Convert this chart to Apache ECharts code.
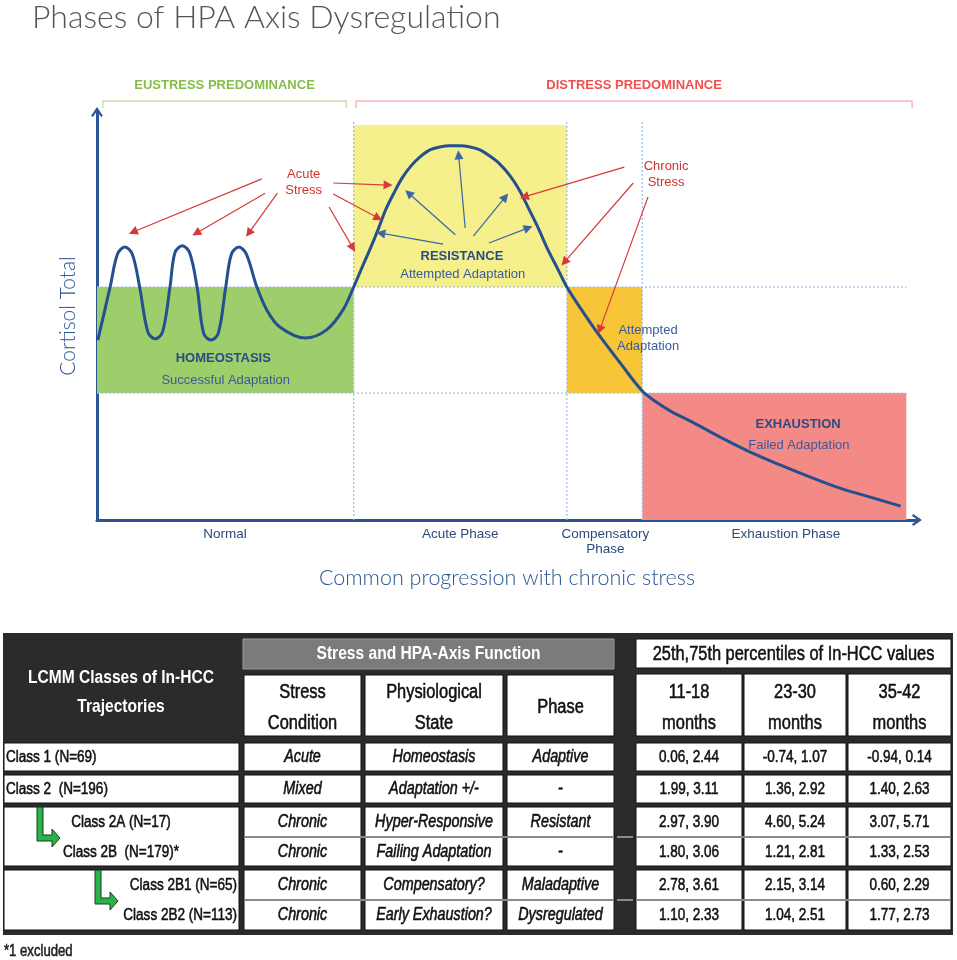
<!DOCTYPE html>
<html style="height: 100%">
<head>
<meta charset="utf-8">
</head>
<body style="height: 100%; margin: 0; background: #fff">
<div id="container" style="width: 957px; height: 960px"></div>
<script src="https://cdn.jsdelivr.net/npm/echarts@6/dist/echarts.min.js"></script>
<script type="text/javascript">
// ---------- diagram data (x: progression 0-100, y: cortisol 0-100) ----------
var cortisolCurve = [
    [0.1, 44.1], [1.6, 57.1], [2.5, 65.2], [3.4, 66.9], [4.3, 65.2], [5.2, 57.1],
    [6.2, 46.1], [7.1, 44.4], [8.0, 46.1], [8.9, 57.1], [9.5, 65.5], [10.4, 67.2],
    [11.3, 65.5], [12.2, 57.1], [13.0, 45.8], [13.9, 44.1], [14.8, 45.8], [15.7, 57.1],
    [16.4, 65.2], [17.3, 66.9], [18.2, 65.2], [19.5, 57.1], [20.7, 51.5], [22.3, 47.3],
    [25.4, 44.6], [28.0, 46.6], [30.0, 51.5], [31.3, 57.1], [32.3, 61.8], [33.3, 66.4],
    [34.3, 71.3], [35.2, 76.0], [36.2, 80.1], [37.2, 83.8], [38.3, 86.8], [39.4, 89.0],
    [40.6, 90.7], [41.8, 91.4], [43.0, 91.7], [44.3, 91.7], [45.5, 91.4], [46.7, 90.7],
    [47.9, 89.2], [49.1, 87.3], [50.4, 84.3], [51.5, 80.9], [52.6, 76.5], [53.8, 71.6],
    [55.0, 66.2], [56.2, 61.5], [57.3, 57.1], [59.1, 51.5], [61.3, 45.1], [63.8, 38.5],
    [66.5, 31.6], [68.2, 28.9], [70.1, 26.5], [72.6, 24.0], [76.0, 20.3], [79.6, 16.7],
    [83.3, 13.5], [87.0, 10.5], [90.6, 7.8], [94.3, 5.6], [98.0, 3.4]
];
// phase zones: [x0, x1, y0, y1]
var zones = [
    [0, 31.3, 31.1, 57.1],
    [31.3, 57.3, 57.1, 96.8],
    [57.3, 66.5, 31.1, 57.1],
    [66.5, 98.7, 0, 31.1]
];
var zoneColors = ['#9ecd6b', '#f5f08b', '#f7c537', '#f48a85'];
var phaseBounds = [31.3, 57.3, 66.5];
var cortisolLevels = [31.1, 57.1];
var phaseTicks = [15.6, 44.3, 62.0, 84.0];
var phaseLabels = ['Normal', 'Acute Phase', 'Compensatory\nPhase', 'Exhaustion Phase'];
// [x0, y0, x1, y1]
var stressArrows = [
    [20.1, 83.6, 4.4, 70.6], [20.5, 80.1, 12.1, 70.3], [22.0, 80.1, 18.5, 70.3],
    [28.3, 76.7, 31.2, 66.7], [28.8, 82.6, 35.5, 82.1], [28.8, 79.9, 34.3, 74.0],
    [64.3, 86.5, 52.1, 79.2], [65.4, 82.6, 57.0, 63.2], [67.2, 79.2, 61.3, 46.6]
];
var responseArrows = [
    [42.2, 67.6, 34.6, 70.3], [43.7, 69.9, 38.0, 80.1], [44.9, 71.6, 44.1, 89.5],
    [45.9, 69.6, 49.8, 79.2], [47.8, 67.9, 52.6, 71.6]
];
// predominance brackets: [x0, x1]
var predominance = [[0.7, 30.4], [31.6, 99.4]];
var predominanceNames = ['EUSTRESS PREDOMINANCE', 'DISTRESS PREDOMINANCE'];
var notes = [
    ['Acute\nStress', 25.2, 82.8, 'stress'],
    ['Chronic\nStress', 69.4, 84.6, 'stress'],
    ['HOMEOSTASIS', 15.4, 39.5, 'head'],
    ['Successful Adaptation', 15.7, 34.1, 'sub'],
    ['RESISTANCE', 44.5, 64.5, 'head'],
    ['Attempted Adaptation', 44.6, 60.3, 'sub'],
    ['Attempted\nAdaptation', 67.2, 44.4, 'sub'],
    ['EXHAUSTION', 85.5, 23.5, 'head'],
    ['Failed Adaptation', 85.6, 18.4, 'sub']
];

// ---------- table data ----------
var tableTitle = 'LCMM Classes of In-HCC\nTrajectories';
var groupHeaders = ['Stress and HPA-Axis Function', '25th,75th percentiles of In-HCC values'];
var columnHeaders = ['Stress\nCondition', 'Physiological\nState', 'Phase', '11-18\nmonths', '23-30\nmonths', '35-42\nmonths'];
var classNames = ['Class 1 (N=69)', 'Class 2  (N=196)', 'Class 2A (N=17)', 'Class 2B  (N=179)*', 'Class 2B1 (N=65)', 'Class 2B2 (N=113)'];
var stressCondition = ['Acute', 'Mixed', 'Chronic', 'Chronic', 'Chronic', 'Chronic'];
var physState = ['Homeostasis', 'Adaptation +/-', 'Hyper-Responsive', 'Failing Adaptation', 'Compensatory?', 'Early Exhaustion?'];
var phaseName = ['Adaptive', '-', 'Resistant', '-', 'Maladaptive', 'Dysregulated'];
var pct1118 = [[0.06, 2.44], [1.99, 3.11], [2.97, 3.90], [1.80, 3.06], [2.78, 3.61], [1.10, 2.33]];
var pct2330 = [[-0.74, 1.07], [1.36, 2.92], [4.60, 5.24], [1.21, 2.81], [2.15, 3.14], [1.04, 2.51]];
var pct3542 = [[-0.94, 0.14], [1.40, 2.63], [3.07, 5.71], [1.33, 2.53], [0.60, 2.29], [1.77, 2.73]];
var footnote = '*1 excluded';

// ---------- layout ----------
var SANS = '"Liberation Sans", Arial, sans-serif';
var LIGHT = 'Lato, Roboto, "Liberation Sans", sans-serif';
var NARROW_SCALE = 0.82;   // Liberation Sans squeezed to look like Arial Narrow
var BLUE = '#2b5593';
var noteStyle = {
    stress: { font: '13px ' + SANS, fill: '#d0312d' },
    head: { font: 'bold 13px ' + SANS, fill: '#2b4a88' },
    sub: { font: '13px ' + SANS, fill: '#3a5b9a' }
};
var predColors = [['#c8e0ab', '#86bd4a'], ['#f6b8b8', '#ee5050']];
var leftCol = [4, 239];
var cols = [[244, 361], [365, 503], [507, 614], [636, 742], [744, 846], [848, 951]];
var rowTop = [743, 775, 807, 837, 870, 900];
var rowBot = [771, 803, 837, 866, 900, 930];
var classAlign = ['left', 'left', 'center', 'center', 'right', 'right'];
var classX = { left: 6, center: 121, right: 237 };
var arrowShape = [[0, 0], [6, 0], [6, 28], [15, 28], [15, 22], [23, 31], [15, 40], [15, 34], [0, 34]];
var arrowAnchor = { 2: [37, 807], 4: [95, 870] };

var dom = document.getElementById('container');
var myChart = echarts.init(dom, null, { renderer: 'canvas' });

function rectEl(a, b, fill, stroke) {
    return {
        type: 'rect',
        shape: { x: a[0], y: a[1], width: b[0] - a[0], height: b[1] - a[1] },
        style: { fill: fill, stroke: stroke || null, lineWidth: 1 }
    };
}
function textEl(s, p, font, fill, align, lh, sx, heavy) {
    return {
        type: 'text', x: p[0], y: p[1], scaleX: sx || 1,
        style: {
            text: s, font: font, fill: fill, align: align || 'center', verticalAlign: 'middle',
            lineHeight: lh || null, stroke: heavy ? fill : null, lineWidth: heavy ? 0.55 : 0
        }
    };
}
// Liberation Sans squeezed and slightly thickened, close to the Arial Narrow of the table
function narrow(s, p, font, fill, align, lh) {
    var isBold = font.indexOf('bold') >= 0;
    return textEl(s, p, font + ' ' + SANS, fill, align, lh, NARROW_SCALE, !isBold);
}
function fmtPair(p) { return p[0].toFixed(2) + ', ' + p[1].toFixed(2); }

function renderHeader(params, api) {
    var c = function (x, y) { return api.coord([x, y]); };
    var kids = [];
    kids.push(rectEl(c(3, 633), c(953, 935), '#2b2b2b'));
    kids.push(narrow(tableTitle, c(121, 692), 'bold 19px', '#fff', 'center', 29));
    kids.push(rectEl(c(243, 639), c(614, 669), '#7b7b7b', '#9c9c9c'));
    kids.push(narrow(groupHeaders[0], c(428.5, 654), 'bold 19px', '#fff'));
    kids.push(rectEl(c(636, 639), c(951, 668), '#fff', '#111'));
    kids.push(narrow(groupHeaders[1], c(793.5, 654), '20px', '#111'));
    for (var i = 0; i < cols.length; i++) {
        var top = i < 3 ? 675 : 674;
        kids.push(rectEl(c(cols[i][0], top), c(cols[i][1], 736), '#fff', '#111'));
        kids.push(narrow(columnHeaders[i], c((cols[i][0] + cols[i][1]) / 2, 707.5), '20px', '#111', 'center', 31));
    }
    kids.push(narrow(footnote, c(4, 952), '16px', '#222', 'left'));
    return { type: 'group', children: kids };
}

function renderRow(params, api) {
    var i = params.dataIndex;
    var c = function (x, y) { return api.coord([x, y]); };
    var kids = [];
    var mid = (rowTop[i] + rowBot[i]) / 2 + 0.5;
    var grouped = i >= 2;
    var first = !grouped || i % 2 === 0;
    var bottom = grouped && first ? rowBot[i + 1] : rowBot[i];
    if (first) {
        kids.push(rectEl(c(leftCol[0], rowTop[i]), c(leftCol[1], bottom), '#fff', '#111'));
        for (var k = 0; k < cols.length; k++) {
            kids.push(rectEl(c(cols[k][0], rowTop[i]), c(cols[k][1], bottom), '#fff', '#111'));
        }
    } else {
        var segs = [[cols[0][0] + 1, cols[2][1] - 1], [cols[3][0] + 1, cols[5][1] - 1], [617, 633]];
        segs.forEach(function (s) {
            var a = c(s[0], rowTop[i]), b = c(s[1], rowTop[i]);
            kids.push({ type: 'line', shape: { x1: a[0], y1: a[1], x2: b[0], y2: b[1] }, style: { stroke: '#8a8a8a', lineWidth: 2 } });
        });
    }
    if (arrowAnchor[i]) {
        var an = arrowAnchor[i];
        kids.push({
            type: 'polygon',
            shape: { points: arrowShape.map(function (p) { return c(an[0] + p[0], an[1] + p[1]); }) },
            style: { fill: '#2bb34b', stroke: '#1c3a20', lineWidth: 1 }
        });
    }
    kids.push(narrow(classNames[i], c(classX[classAlign[i]], mid), '16.5px', '#111', classAlign[i]));
    var cells = [stressCondition[i], physState[i], phaseName[i]];
    for (var j = 0; j < 3; j++) {
        kids.push(narrow(cells[j], c((cols[j][0] + cols[j][1]) / 2, mid), 'italic 17.5px', '#111'));
    }
    var vals = [pct1118[i], pct2330[i], pct3542[i]];
    for (var m = 0; m < 3; m++) {
        kids.push(narrow(fmtPair(vals[m]), c((cols[m + 3][0] + cols[m + 3][1]) / 2, mid), '16.5px', '#111'));
    }
    return { type: 'group', children: kids };
}

var guideLines = phaseBounds.map(function (b) { return [b, 0, b, 97.8]; })
    .concat(cortisolLevels.map(function (l) { return [0, l, 98.7, l]; }));

var arrowPath = 'path://M0,9 L6,0 L12,9 L10.2,10.2 L6,4 L1.8,10.2 Z';

var option = {
    animation: false,
    backgroundColor: '#fff',
    title: {
        text: 'Phases of HPA Axis Dysregulation',
        left: 27, top: -3,
        textStyle: { fontFamily: LIGHT, fontWeight: 300, fontSize: 32, color: '#555' }
    },
    grid: [
        { left: 97, top: 112, width: 820, height: 408 },
        { left: 0, top: 0, width: 957, height: 960 }
    ],
    xAxis: [{
        type: 'value', gridIndex: 0, min: 0, max: 100,
        name: 'Common progression with chronic stress',
        nameLocation: 'middle', nameGap: 47,
        nameTextStyle: { fontFamily: LIGHT, fontWeight: 300, fontSize: 21.5, color: BLUE },
        axisLine: { show: true, symbol: ['none', arrowPath], symbolSize: [12, 10], lineStyle: { color: BLUE, width: 3 } },
        axisTick: { show: false },
        splitLine: { show: false },
        axisLabel: {
            customValues: phaseTicks,
            margin: 7,
            color: '#2b4a7c', fontSize: 13.5, fontFamily: SANS, lineHeight: 15,
            verticalAlign: 'top',
            formatter: function (v) {
                var best = 0;
                phaseTicks.forEach(function (t, i) { if (Math.abs(t - v) < Math.abs(phaseTicks[best] - v)) best = i; });
                return phaseLabels[best];
            }
        }
    }, {
        type: 'value', gridIndex: 1, min: 0, max: 957, show: false
    }],
    yAxis: [{
        type: 'value', gridIndex: 0, min: 0, max: 100,
        name: 'Cortisol Total',
        nameLocation: 'middle', nameGap: 18, nameRotate: 90,
        nameTextStyle: { fontFamily: LIGHT, fontWeight: 300, fontSize: 21, color: BLUE },
        axisLine: { show: true, symbol: ['none', arrowPath], symbolSize: [12, 10], lineStyle: { color: BLUE, width: 3 } },
        axisTick: { show: false },
        axisLabel: { show: false },
        splitLine: { show: false }
    }, {
        type: 'value', gridIndex: 1, min: 0, max: 960, inverse: true, show: false
    }],
    series: [
        {
            type: 'custom', name: 'zones', xAxisIndex: 0, yAxisIndex: 0, silent: true, z: 1,
            data: zones,
            renderItem: function (params, api) {
                var a = api.coord([api.value(0), api.value(3)]);
                var b = api.coord([api.value(1), api.value(2)]);
                return rectEl(a, b, zoneColors[params.dataIndex]);
            }
        },
        {
            type: 'custom', name: 'guides', xAxisIndex: 0, yAxisIndex: 0, silent: true, z: 2,
            data: guideLines,
            renderItem: function (params, api) {
                var a = api.coord([api.value(0), api.value(1)]);
                var b = api.coord([api.value(2), api.value(3)]);
                return { type: 'line', shape: { x1: a[0], y1: a[1], x2: b[0], y2: b[1] },
                    style: { stroke: '#9fc0e6', lineWidth: 1.3, lineDash: [2, 2] } };
            }
        },
        {
            type: 'custom', name: 'predominance', xAxisIndex: 0, yAxisIndex: 0, silent: true, z: 2, clip: false,
            data: predominance,
            renderItem: function (params, api) {
                var i = params.dataIndex;
                var x0 = api.value(0), x1 = api.value(1);
                var p = [api.coord([x0, 101.0]), api.coord([x0, 102.7]), api.coord([x1, 102.7]), api.coord([x1, 101.0])];
                return { type: 'group', children: [
                    { type: 'polyline', shape: { points: p }, style: { stroke: predColors[i][0], lineWidth: 1.5, fill: null } },
                    textEl(predominanceNames[i], api.coord([(x0 + x1) / 2, 106.6]), 'bold 13px ' + SANS, predColors[i][1])
                ] };
            }
        },
        {
            type: 'line', name: 'Cortisol', xAxisIndex: 0, yAxisIndex: 0, z: 4,
            data: cortisolCurve, smooth: 0.35, showSymbol: false, silent: true,
            lineStyle: { color: '#24508f', width: 3 }
        },
        {
            type: 'lines', coordinateSystem: 'cartesian2d', xAxisIndex: 0, yAxisIndex: 0, z: 5, silent: true,
            symbol: ['none', 'triangle'], symbolSize: 9,
            lineStyle: { color: '#d63a3a', width: 1.2, opacity: 1 },
            data: stressArrows.map(function (a) { return { coords: [[a[0], a[1]], [a[2], a[3]]] }; })
        },
        {
            type: 'lines', coordinateSystem: 'cartesian2d', xAxisIndex: 0, yAxisIndex: 0, z: 5, silent: true,
            symbol: ['none', 'triangle'], symbolSize: 9,
            lineStyle: { color: '#3c66a6', width: 1.2, opacity: 1 },
            data: responseArrows.map(function (a) { return { coords: [[a[0], a[1]], [a[2], a[3]]] }; })
        },
        {
            type: 'custom', name: 'notes', xAxisIndex: 0, yAxisIndex: 0, silent: true, z: 6, clip: false,
            data: notes.map(function (n) { return [n[1], n[2]]; }),
            renderItem: function (params, api) {
                var n = notes[params.dataIndex];
                var st = noteStyle[n[3]];
                return textEl(n[0], api.coord([api.value(0), api.value(1)]), st.font, st.fill, 'center', 16);
            }
        },
        {
            type: 'custom', name: 'tableHeader', xAxisIndex: 1, yAxisIndex: 1, silent: true, z: 1, clip: false,
            data: [[0, 0]],
            renderItem: renderHeader
        },
        {
            type: 'custom', name: 'tableRows', xAxisIndex: 1, yAxisIndex: 1, silent: true, z: 2, clip: false,
            data: classNames.map(function (n, i) { return [i, i]; }),
            renderItem: renderRow
        }
    ]
};

myChart.setOption(option);
</script>
</body>
</html>
